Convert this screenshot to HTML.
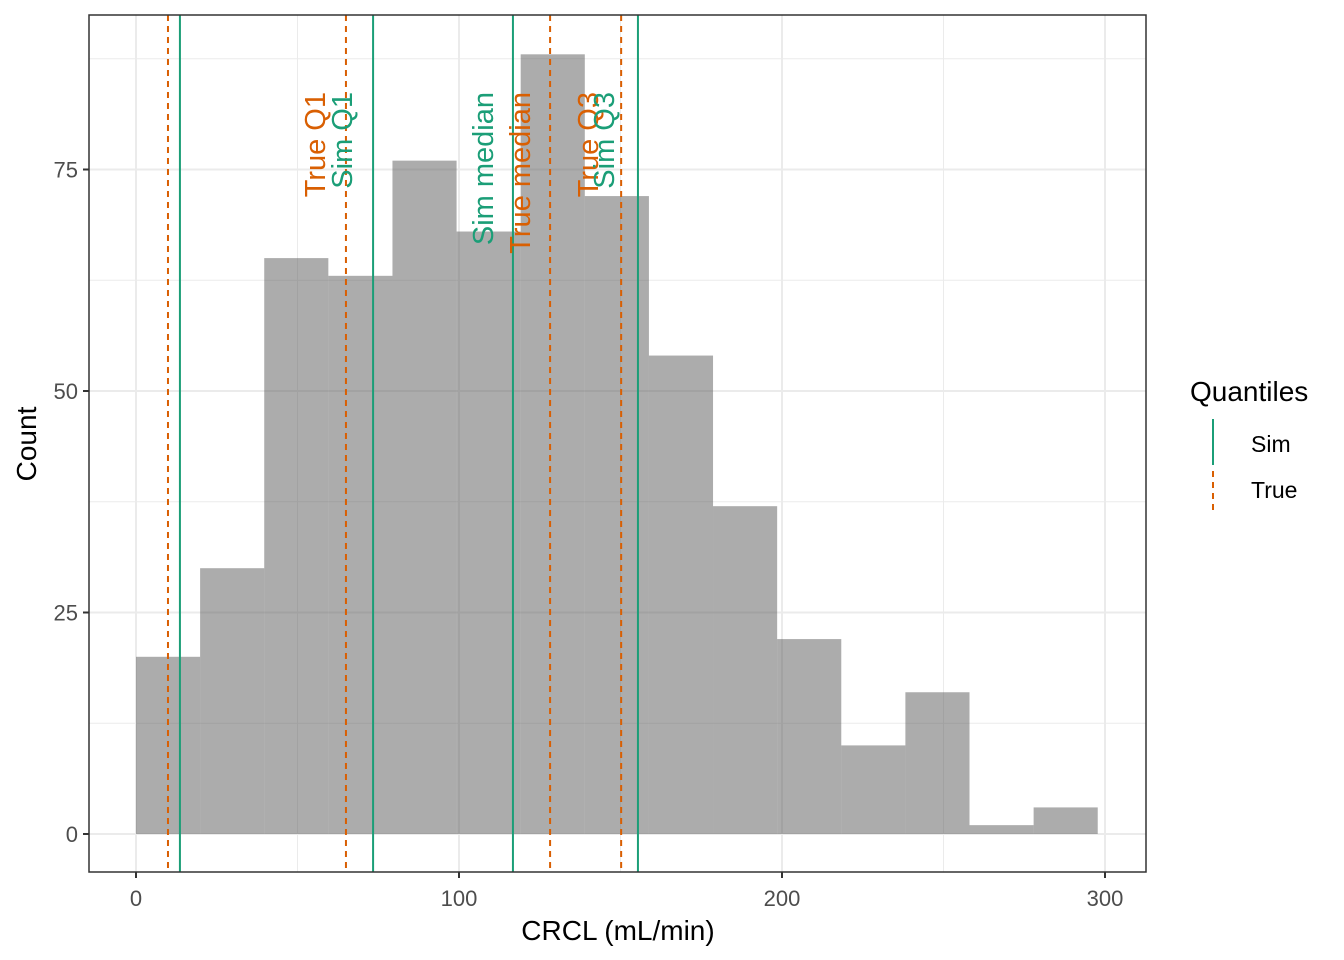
<!DOCTYPE html>
<html><head><meta charset="utf-8"><style>
html,body{margin:0;padding:0;background:#fff;}
svg{display:block;font-family:"Liberation Sans",Arial,sans-serif;}
</style></head><body>
<svg id="chart" width="1344" height="960" viewBox="0 0 1344 960">
<rect width="1344" height="960" fill="#fff"/>
<g id="grid"></g><g id="bars"></g><g id="lines"></g><g id="labels"></g><g id="axes"></g>
</svg>
<script>
const binStart = 0;
const binWidth = 19.85;
const counts = [20,30,65,63,76,68,88,72,54,37,22,10,16,1,3];
const xTicks = [0,100,200,300];
const yTicks = [0,25,50,75];
const trueVals = [9.9,65.0,128.2,150.2];
const simQ = [13.6,73.4,116.7,155.4];

const NS="http://www.w3.org/2000/svg";
const L=89,R=1146,T=15,B=872;
const X=v=>136+v*3.23;
const Y=v=>834-v*8.86;
function mk(tag,attrs,parent){const e=document.createElementNS(NS,tag);for(const k in attrs)e.setAttribute(k,attrs[k]);document.getElementById(parent).appendChild(e);return e;}

// grid
[50,150,250].forEach(v=>{const e=mk('line',{x1:X(v),x2:X(v),y1:T,y2:B,stroke:'#ebebeb','stroke-width':1},'grid');

});
[12.5,37.5,62.5,87.5].forEach(v=>{const e=mk('line',{x1:L,x2:R,y1:Y(v),y2:Y(v),stroke:'#ebebeb','stroke-width':1},'grid');

});
xTicks.forEach(v=>{const e=mk('line',{x1:X(v),x2:X(v),y1:T,y2:B,stroke:'#ebebeb','stroke-width':2},'grid');

});
yTicks.forEach(v=>{const e=mk('line',{x1:L,x2:R,y1:Y(v),y2:Y(v),stroke:'#ebebeb','stroke-width':2},'grid');

});

// bars
counts.forEach((c,i)=>{const x0=X(binStart+i*binWidth),x1=X(binStart+(i+1)*binWidth);
const e=mk('rect',{x:x0,y:Y(c),width:x1-x0,height:Y(0)-Y(c),fill:'#595959','fill-opacity':0.5},'bars');

});

// quantile lines
trueVals.forEach(v=>{const e=mk('line',{x1:X(v),x2:X(v),y1:T,y2:B,stroke:'#D95F02','stroke-width':2,'stroke-dasharray':'6,5'},'lines');

});
simQ.forEach(v=>{const e=mk('line',{x1:X(v),x2:X(v),y1:T,y2:B,stroke:'#1B9E77','stroke-width':2},'lines');

});

// labels
const items=[["True Q1",trueVals[1],'#D95F02',-21],["Sim Q1",simQ[1],'#1B9E77',-21],["Sim median",simQ[2],'#1B9E77',-20],["True median",trueVals[2],'#D95F02',-20],["True Q3",trueVals[3],'#D95F02',-23],["Sim Q3",simQ[3],'#1B9E77',-24]];
items.forEach(it=>{const x=X(it[1])+it[3];
const e=mk('text',{transform:`translate(${x},92) rotate(-90)`,'text-anchor':'end','font-size':29,fill:it[2]},'labels');
e.textContent=it[0];

});

// axes
const a='axes';
const p=mk('rect',{x:L,y:T,width:R-L,height:B-T,fill:'none',stroke:'#333','stroke-width':1.5},a);


xTicks.forEach(v=>{const t=mk('line',{x1:X(v),x2:X(v),y1:B,y2:B+6,stroke:'#333','stroke-width':2},a);


const e=mk('text',{x:X(v),y:906,'text-anchor':'middle','font-size':22,fill:'#4d4d4d'},a);e.textContent=v;

});
yTicks.forEach(v=>{const t=mk('line',{x1:L-6,x2:L,y1:Y(v),y2:Y(v),stroke:'#333','stroke-width':2},a);


const e=mk('text',{x:L-11,y:Y(v)+8,'text-anchor':'end','font-size':22,fill:'#4d4d4d'},a);e.textContent=v;

});
let e=mk('text',{x:618,y:940,'text-anchor':'middle','font-size':28,fill:'#000'},a);e.textContent='CRCL (mL/min)';


e=mk('text',{transform:'translate(36,444) rotate(-90)','text-anchor':'middle','font-size':28,fill:'#000'},a);e.textContent='Count';


e=mk('text',{x:1190,y:401,'font-size':28,fill:'#000'},a);e.textContent='Quantiles';


e=mk('line',{x1:1213,x2:1213,y1:419,y2:465,stroke:'#1B9E77','stroke-width':2},a);


e=mk('line',{x1:1213,x2:1213,y1:471,y2:512,stroke:'#D95F02','stroke-width':2,'stroke-dasharray':'6,5'},a);


e=mk('text',{x:1251,y:452,'font-size':23,fill:'#000'},a);e.textContent='Sim';


e=mk('text',{x:1251,y:498,'font-size':23,fill:'#000'},a);e.textContent='True';


</script>
</body></html>
